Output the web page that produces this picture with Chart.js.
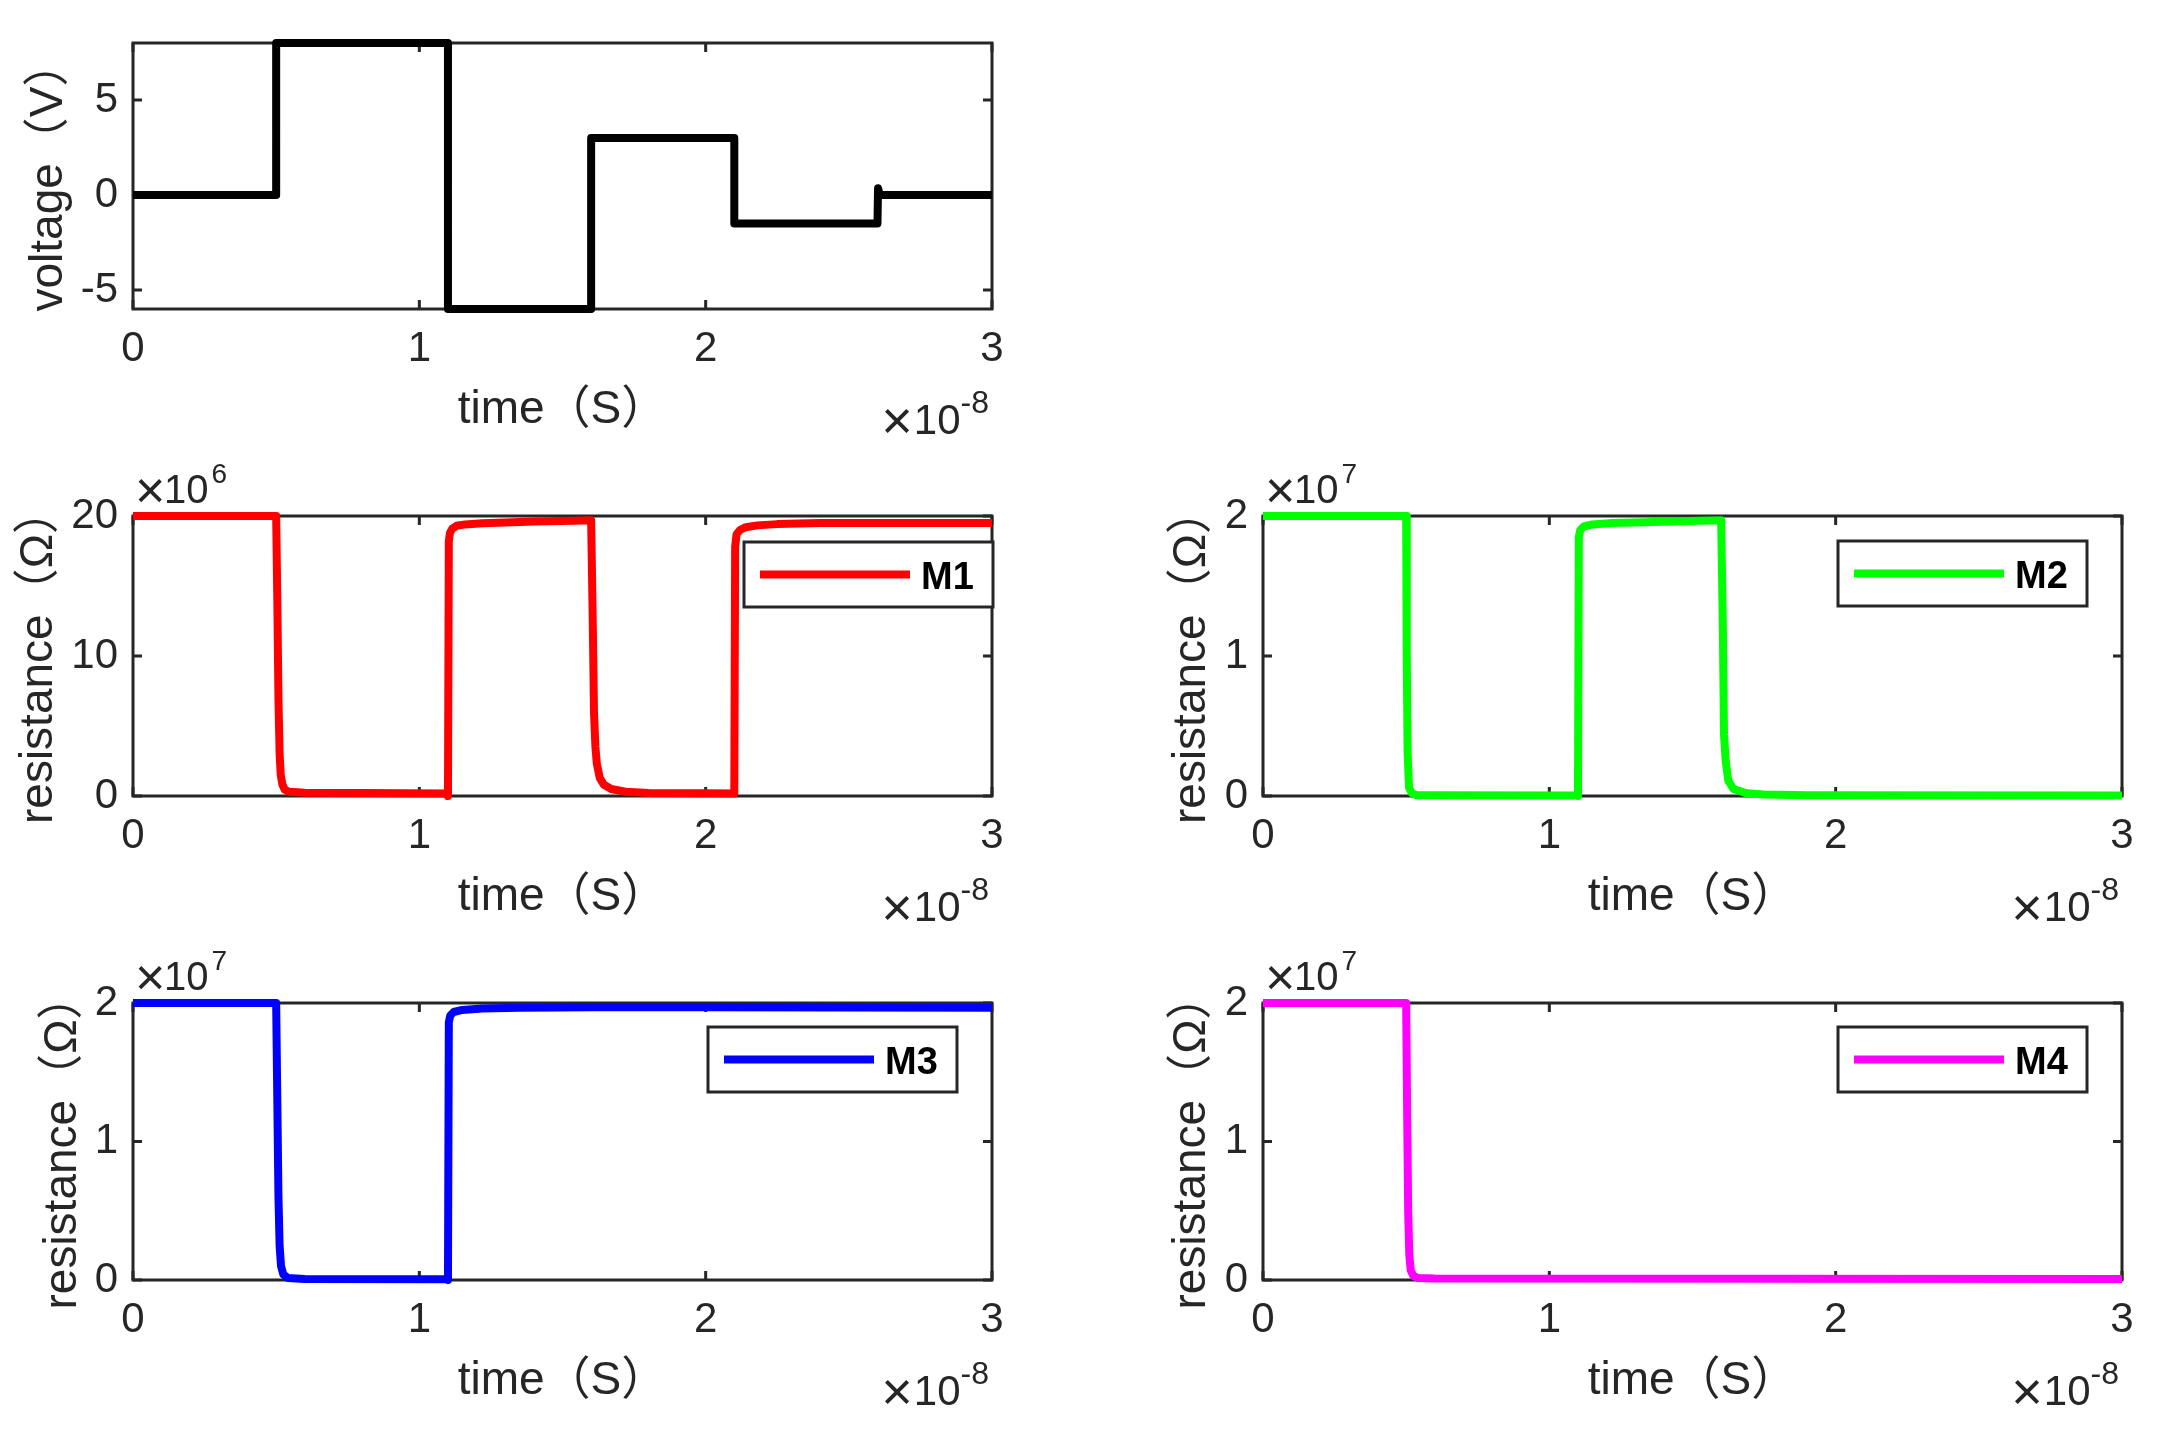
<!DOCTYPE html>
<html lang="en">
<head>
  <meta charset="UTF-8">
  <title>Voltage and memristor resistance</title>
  <style>
    body { margin: 0; background: #fff; }
    #page { position: relative; width: 2165px; height: 1451px; overflow: hidden; background: #fff; }
    #page canvas { position: absolute; }
  </style>
</head>
<body>
  <div id="page">
    <canvas id="voltage-chart"></canvas>
    <canvas id="m1-chart"></canvas>
    <canvas id="m2-chart"></canvas>
    <canvas id="m3-chart"></canvas>
    <canvas id="m4-chart"></canvas>
  </div>

  <script src="https://cdn.jsdelivr.net/npm/chart.js"></script>
  <script>
    // time is kept in ns (axis reads x10^-8 s), resistance in MOhm
    const timeTicks = [0, 10, 20, 30];
    const voltageTicks = [-5, 0, 5];
    const resistanceTicks = [0, 10, 20];

    const voltageTime  = [0, 5, 5, 11, 11, 16, 16, 21, 21, 26, 26.02, 26.08, 30];
    const voltageValue = [0, 0, 8, 8, -6, -6, 3, 3, -1.5, -1.5, 0.35, 0, 0];

    const m1Time  = [0, 5.0, 5.04, 5.08, 5.12, 5.16, 5.22, 5.3, 5.45, 6, 8, 10.98, 11.0,
                     11.03, 11.07, 11.15, 11.3, 11.6, 12.2, 13, 14, 15.4, 16.0,
                     16.06, 16.1, 16.15, 16.2, 16.3, 16.45, 16.7, 17.2, 18, 20, 21.0,
                     21.03, 21.08, 21.2, 21.4, 21.8, 22.5, 24, 27, 30];
    const m1Value = [20, 20, 14, 7, 3, 1.5, 0.8, 0.45, 0.3, 0.24, 0.21, 0.18, 0,
                     18.2, 18.8, 19.1, 19.3, 19.4, 19.48, 19.54, 19.6, 19.66, 19.7,
                     12, 6, 3.5, 2.3, 1.3, 0.8, 0.5, 0.3, 0.22, 0.19, 0.18,
                     17.8, 18.7, 19.0, 19.2, 19.33, 19.42, 19.5, 19.5, 19.5];

    const m2Time  = [0, 5.0, 5.02, 5.05, 5.1, 5.2, 5.35, 5.8, 10.98, 11.0,
                     11.03, 11.08, 11.2, 11.5, 12.2, 13.3, 14.5, 16.0,
                     16.06, 16.1, 16.16, 16.25, 16.43, 16.9, 17.5, 19, 30];
    const m2Value = [20, 20, 10, 3.2, 0.6, 0.2, 0.06, 0.05, 0.03, 0,
                     18.5, 19.0, 19.25, 19.4, 19.5, 19.55, 19.62, 19.7,
                     12, 4.4, 2.5, 1.1, 0.5, 0.19, 0.1, 0.06, 0.04];

    const m3Time  = [0, 5.0, 5.04, 5.08, 5.12, 5.17, 5.25, 5.4, 6, 10.98, 11.0,
                     11.03, 11.08, 11.2, 11.5, 12.2, 13.5, 16, 20, 25, 30];
    const m3Value = [20, 20, 13, 6, 2.5, 1.0, 0.4, 0.15, 0.08, 0.05, 0,
                     18.6, 19.1, 19.35, 19.5, 19.6, 19.66, 19.7, 19.7, 19.68, 19.65];

    const m4Time  = [0, 5.0, 5.03, 5.07, 5.11, 5.16, 5.25, 5.4, 6, 30];
    const m4Value = [20, 20, 13, 5, 1.8, 0.7, 0.3, 0.15, 0.1, 0.08];

    const fontFamily = "'Liberation Sans', Arial, 'Noto Sans CJK SC', sans-serif";
    const axisColor = '#262626';
    Chart.defaults.font.family = fontFamily;
    Chart.defaults.color = axisColor;

    const panels = [
      { id: 'voltage-chart', left: 133, top: 31.5, right: 992, bottom: 308.5, padTop: 25,
        time: voltageTime, values: voltageValue, color: '#000000', label: 'voltage',
        yMin: -6, yMax: 8, yTicks: voltageTicks, yLabel: v => v, yTitle: 'voltage（V）', titlePad: 23,
        yPower: null, legend: null },
      { id: 'm1-chart', left: 133, top: 515.5, right: 992, bottom: 795, padTop: 60,
        time: m1Time, values: m1Value, color: '#ff0000', label: 'M1',
        yMin: 0, yMax: 20, yTicks: resistanceTicks, yLabel: v => v, yTitle: 'resistance（Ω）', titlePad: 13,
        yPower: '6', legend: { inset: -1, top: 26 } },
      { id: 'm2-chart', left: 1263, top: 515.5, right: 2122, bottom: 795, padTop: 60,
        time: m2Time, values: m2Value, color: '#00ff00', label: 'M2',
        yMin: 0, yMax: 20, yTicks: resistanceTicks, yLabel: v => v / 10, yTitle: 'resistance（Ω）', titlePad: 36,
        yPower: '7', legend: { inset: 35, top: 25 } },
      { id: 'm3-chart', left: 133, top: 1003, right: 992, bottom: 1280, padTop: 60,
        time: m3Time, values: m3Value, color: '#0000ff', label: 'M3',
        yMin: 0, yMax: 20, yTicks: resistanceTicks, yLabel: v => v / 10, yTitle: 'resistance（Ω）', titlePad: 37,
        yPower: '7', legend: { inset: 35, top: 24 } },
      { id: 'm4-chart', left: 1263, top: 1003, right: 2122, bottom: 1280, padTop: 60,
        time: m4Time, values: m4Value, color: '#ff00ff', label: 'M4',
        yMin: 0, yMax: 20, yTicks: resistanceTicks, yLabel: v => v / 10, yTitle: 'resistance（Ω）', titlePad: 36,
        yPower: '7', legend: { inset: 35, top: 24 } }
    ];

    const Y_AXIS_W = 130;
    const X_AXIS_H = 150;
    const PAD_RIGHT = 40;

    // box + inward ticks on all four sides, like the original figure
    const framePlugin = {
      id: 'frame',
      beforeDatasetsDraw(chart) {
        const { ctx, chartArea: a, scales: { x, y } } = chart;
        ctx.save();
        ctx.strokeStyle = axisColor;
        ctx.lineWidth = 3;
        ctx.strokeRect(a.left, a.top, a.right - a.left, a.bottom - a.top);
        ctx.beginPath();
        x.ticks.forEach(t => {
          const px = x.getPixelForValue(t.value);
          ctx.moveTo(px, a.bottom); ctx.lineTo(px, a.bottom - 9);
          ctx.moveTo(px, a.top); ctx.lineTo(px, a.top + 9);
        });
        y.ticks.forEach(t => {
          const py = y.getPixelForValue(t.value);
          ctx.moveTo(a.left, py); ctx.lineTo(a.left + 9, py);
          ctx.moveTo(a.right, py); ctx.lineTo(a.right - 9, py);
        });
        ctx.stroke();
        ctx.restore();
      }
    };

    const legendBoxPlugin = {
      id: 'legendBox',
      afterDatasetsDraw(chart, args, opts) {
        if (!opts || opts.inset === undefined) return;
        const { ctx, chartArea: a } = chart;
        const ds = chart.data.datasets[0];
        const w = 249, h = 65;
        const bx = a.right - opts.inset - w;
        const by = a.top + opts.top;
        ctx.save();
        ctx.fillStyle = '#ffffff';
        ctx.fillRect(bx, by, w, h);
        ctx.strokeStyle = axisColor;
        ctx.lineWidth = 3;
        ctx.strokeRect(bx, by, w, h);
        ctx.strokeStyle = ds.borderColor;
        ctx.lineWidth = 8;
        ctx.beginPath();
        ctx.moveTo(bx + 16, by + h / 2);
        ctx.lineTo(bx + 166, by + h / 2);
        ctx.stroke();
        ctx.fillStyle = '#000000';
        ctx.font = 'bold 38px ' + fontFamily;
        ctx.textAlign = 'left';
        ctx.textBaseline = 'alphabetic';
        ctx.fillText(ds.label, bx + 177, by + 47);
        ctx.restore();
      }
    };

    // the "x10^n" multipliers next to the axes
    const powerPlugin = {
      id: 'powers',
      afterDraw(chart, args, opts) {
        const { ctx, chartArea: a } = chart;
        ctx.save();
        ctx.fillStyle = axisColor;
        ctx.textBaseline = 'alphabetic';

        // x axis, under the right end
        const xb = a.bottom + 125;
        ctx.font = '32px ' + fontFamily;
        ctx.textAlign = 'right';
        ctx.fillText(opts.x, a.right - 3, xb - 21);
        const supW = ctx.measureText(opts.x).width;
        ctx.font = '42px ' + fontFamily;
        const tenRight = a.right - 3 - supW;
        ctx.fillText('10', tenRight, xb);
        const tenW = ctx.measureText('10').width;
        ctx.font = '54px ' + fontFamily;
        ctx.fillText('×', tenRight - tenW - 1, xb + 5);

        // y axis, above the top left corner
        if (opts.y) {
          const yb = a.top - 13;
          const x0 = a.left + 2;
          ctx.textAlign = 'left';
          ctx.font = '52px ' + fontFamily;
          ctx.fillText('×', x0, yb + 5);
          ctx.font = '40px ' + fontFamily;
          ctx.fillText('10', x0 + 29, yb);
          const w10 = ctx.measureText('10').width;
          ctx.font = '28px ' + fontFamily;
          ctx.fillText(opts.y, x0 + 29 + w10 + 3, yb - 20);
        }
        ctx.restore();
      }
    };

    panels.forEach(p => {
      const canvas = document.getElementById(p.id);
      const plotW = p.right - p.left;
      const plotH = p.bottom - p.top;
      canvas.width = Math.round(Y_AXIS_W + plotW + PAD_RIGHT);
      canvas.height = Math.round(p.padTop + plotH + X_AXIS_H);
      canvas.style.left = (p.left - Y_AXIS_W) + 'px';
      canvas.style.top = (p.top - p.padTop) + 'px';

      new Chart(canvas.getContext('2d'), {
        type: 'line',
        data: {
          datasets: [{
            label: p.label,
            data: p.time.map((t, i) => ({ x: t, y: p.values[i] })),
            borderColor: p.color,
            borderWidth: 8,
            borderJoinStyle: 'round',
            borderCapStyle: 'butt',
            pointRadius: 0,
            tension: 0,
            clip: 12
          }]
        },
        options: {
          responsive: false,
          animation: false,
          devicePixelRatio: 1,
          layout: { padding: { left: 0, top: p.padTop, right: PAD_RIGHT, bottom: 0 } },
          scales: {
            x: {
              type: 'linear',
              min: 0,
              max: 30,
              afterBuildTicks: s => { s.ticks = timeTicks.map(v => ({ value: v })); },
              afterFit: s => { s.height = X_AXIS_H; },
              grid: { display: false, drawTicks: false },
              border: { display: false },
              ticks: {
                callback: v => v / 10,
                autoSkip: false,
                maxRotation: 0,
                padding: 19,
                font: { size: 42, lineHeight: 1 }
              },
              title: {
                display: true,
                text: 'time（S）',
                font: { size: 46, lineHeight: 1 },
                padding: { top: 0, bottom: 26 }
              }
            },
            y: {
              type: 'linear',
              min: p.yMin,
              max: p.yMax,
              afterBuildTicks: s => { s.ticks = p.yTicks.map(v => ({ value: v })); },
              afterFit: s => { s.width = Y_AXIS_W; },
              grid: { display: false, drawTicks: false },
              border: { display: false },
              ticks: {
                callback: p.yLabel,
                padding: 15,
                font: { size: 42, lineHeight: 1 }
              },
              title: {
                display: true,
                text: p.yTitle,
                font: { size: 46, lineHeight: 1 },
                padding: { top: p.titlePad, bottom: 0 }
              }
            }
          },
          plugins: {
            legend: { display: false },
            tooltip: { enabled: false },
            legendBox: p.legend || {},
            powers: { x: '-8', y: p.yPower }
          }
        },
        plugins: [framePlugin, legendBoxPlugin, powerPlugin]
      });
    });
  </script>
</body>
</html>
